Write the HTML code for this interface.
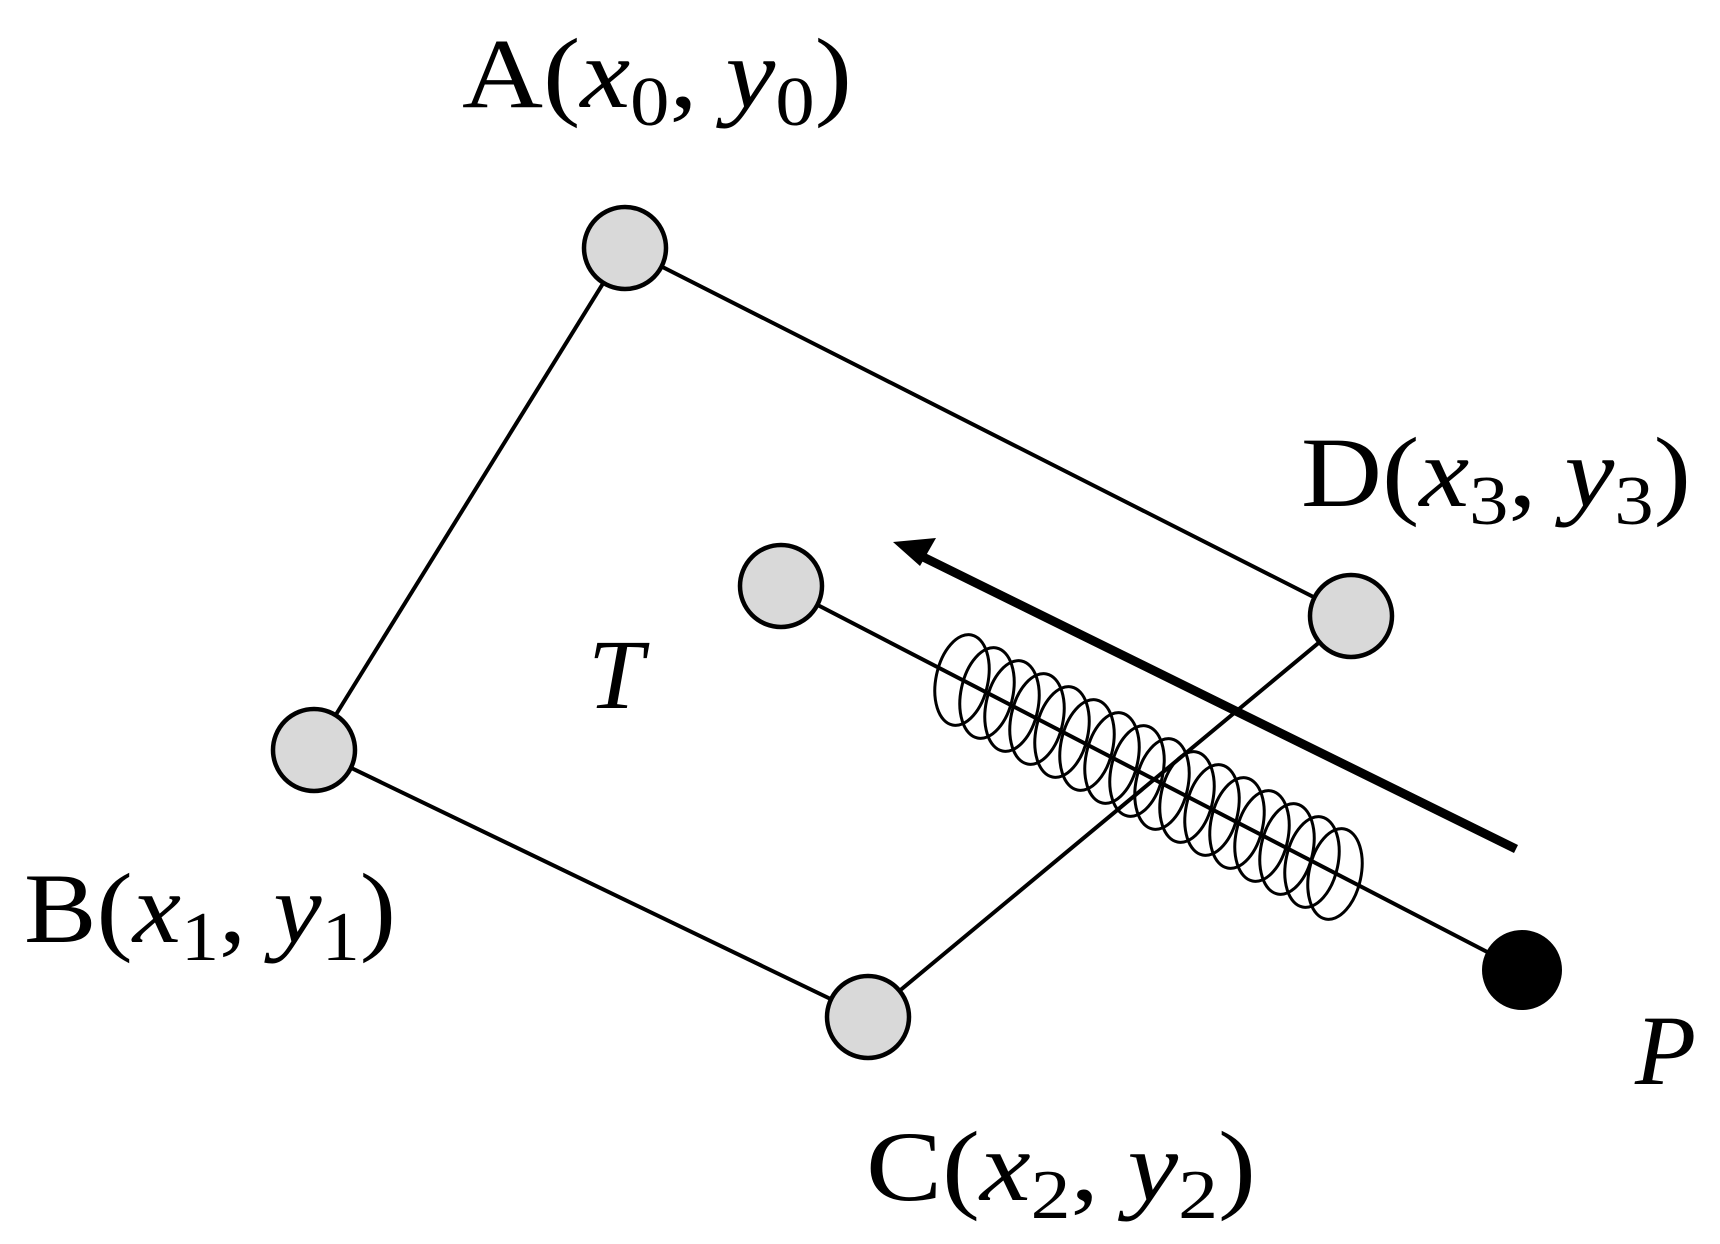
<!DOCTYPE html>
<html><head><meta charset="utf-8"><style>
html,body{margin:0;padding:0;background:#fff;}
svg{display:block;}
text{font-family:"Liberation Serif",serif;fill:#000;}
</style></head><body>
<svg width="1720" height="1244" viewBox="0 0 1720 1244" xmlns="http://www.w3.org/2000/svg">
<g stroke="#000" stroke-width="4" fill="none">
<line x1="625" y1="248" x2="314" y2="750"/>
<line x1="625" y1="248" x2="1351" y2="616"/>
<line x1="314" y1="750" x2="868" y2="1017"/>
<line x1="868" y1="1017" x2="1351" y2="616"/>
<line x1="781" y1="586" x2="1522" y2="970"/>
</g>
<g stroke="#000" stroke-width="3" fill="none">
<ellipse cx="962" cy="680" rx="26" ry="46" transform="rotate(12 962 680)"/>
<ellipse cx="987" cy="693" rx="26" ry="46" transform="rotate(12 987 693)"/>
<ellipse cx="1012" cy="706" rx="26" ry="46" transform="rotate(12 1012 706)"/>
<ellipse cx="1037" cy="719" rx="26" ry="46" transform="rotate(12 1037 719)"/>
<ellipse cx="1062" cy="732" rx="26" ry="46" transform="rotate(12 1062 732)"/>
<ellipse cx="1087" cy="745" rx="26" ry="46" transform="rotate(12 1087 745)"/>
<ellipse cx="1112" cy="758" rx="26" ry="46" transform="rotate(12 1112 758)"/>
<ellipse cx="1137" cy="771" rx="26" ry="46" transform="rotate(12 1137 771)"/>
<ellipse cx="1162" cy="784" rx="26" ry="46" transform="rotate(12 1162 784)"/>
<ellipse cx="1187" cy="797" rx="26" ry="46" transform="rotate(12 1187 797)"/>
<ellipse cx="1212" cy="810" rx="26" ry="46" transform="rotate(12 1212 810)"/>
<ellipse cx="1237" cy="823" rx="26" ry="46" transform="rotate(12 1237 823)"/>
<ellipse cx="1262" cy="836" rx="26" ry="46" transform="rotate(12 1262 836)"/>
<ellipse cx="1287" cy="849" rx="26" ry="46" transform="rotate(12 1287 849)"/>
<ellipse cx="1312" cy="862" rx="26" ry="46" transform="rotate(12 1312 862)"/>
<ellipse cx="1335" cy="874" rx="26" ry="46" transform="rotate(12 1335 874)"/>
</g>
<line x1="1516" y1="849" x2="915" y2="553" stroke="#000" stroke-width="9"/>
<polygon points="893,542 936,538 920,566" fill="#000"/>
<g fill="#d9d9d9" stroke="#000" stroke-width="4.5">
<circle cx="625" cy="248" r="41"/>
<circle cx="314" cy="750" r="41"/>
<circle cx="868" cy="1017" r="41"/>
<circle cx="1351" cy="616" r="41"/>
<circle cx="781" cy="586" r="41"/>
</g>
<circle cx="1522" cy="970" r="40" fill="#000"/>
<text x="462" y="107" font-size="100" textLength="390" lengthAdjust="spacingAndGlyphs">A(<tspan font-style="italic">x</tspan><tspan font-size="70" dy="18">0</tspan><tspan dy="-18">, </tspan><tspan font-style="italic">y</tspan><tspan font-size="70" dy="18">0</tspan><tspan dy="-18">)</tspan></text>
<text x="1301" y="506" font-size="100" textLength="390" lengthAdjust="spacingAndGlyphs">D(<tspan font-style="italic">x</tspan><tspan font-size="70" dy="18">3</tspan><tspan dy="-18">, </tspan><tspan font-style="italic">y</tspan><tspan font-size="70" dy="18">3</tspan><tspan dy="-18">)</tspan></text>
<text x="24" y="942" font-size="100" textLength="372" lengthAdjust="spacingAndGlyphs">B(<tspan font-style="italic">x</tspan><tspan font-size="70" dy="18">1</tspan><tspan dy="-18">, </tspan><tspan font-style="italic">y</tspan><tspan font-size="70" dy="18">1</tspan><tspan dy="-18">)</tspan></text>
<text x="866" y="1200" font-size="100" textLength="390" lengthAdjust="spacingAndGlyphs">C(<tspan font-style="italic">x</tspan><tspan font-size="70" dy="18">2</tspan><tspan dy="-18">, </tspan><tspan font-style="italic">y</tspan><tspan font-size="70" dy="18">2</tspan><tspan dy="-18">)</tspan></text>
<text x="588" y="708" font-size="100" font-style="italic">T</text>
<text x="1635" y="1084" font-size="100" font-style="italic">P</text>
</svg>
</body></html>
